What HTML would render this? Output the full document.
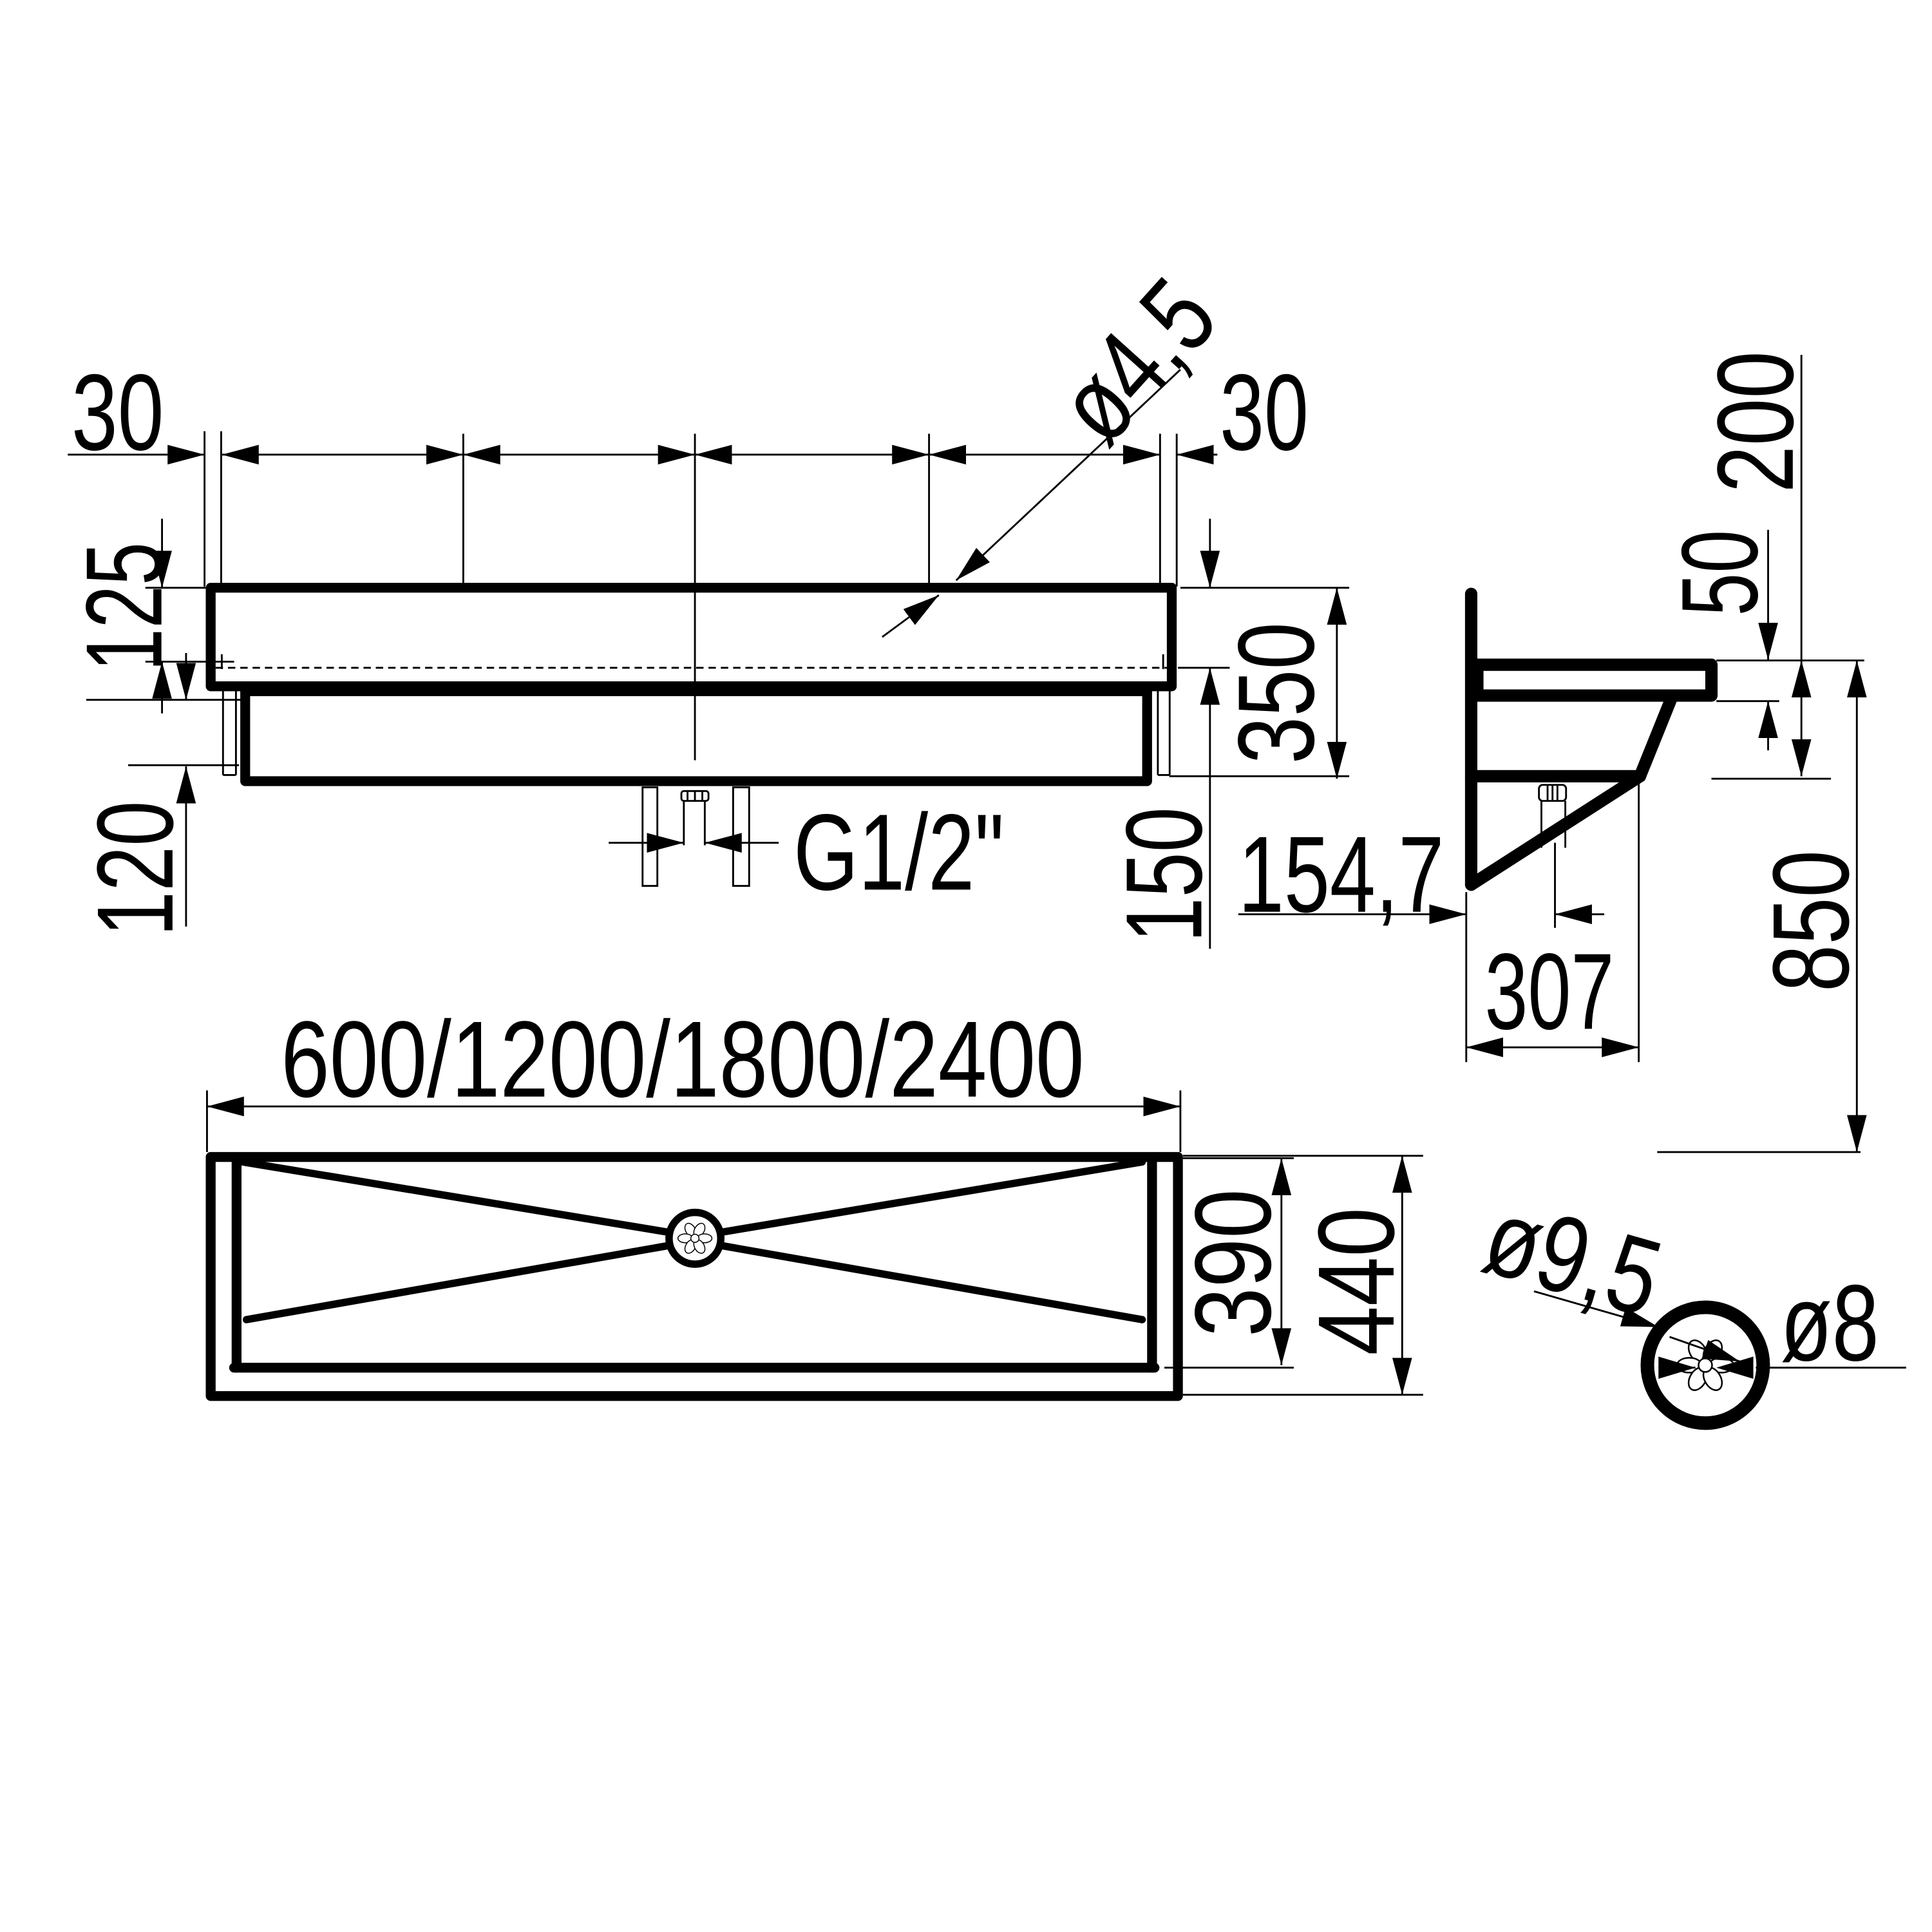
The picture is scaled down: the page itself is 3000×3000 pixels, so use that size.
<!DOCTYPE html>
<html><head><meta charset="utf-8"><style>
html,body{margin:0;padding:0;background:#fff;}
svg{display:block;}
text{font-family:"Liberation Sans",sans-serif;font-size:88px;fill:#000;}
</style></head><body>
<svg width="3000" height="3000" viewBox="0 0 1568 1568" xmlns="http://www.w3.org/2000/svg">
<defs>
<marker id="a" markerUnits="userSpaceOnUse" markerWidth="32" markerHeight="18" refX="30" refY="8" orient="auto-start-reverse">
<path d="M0,0 L30,8 L0,16 z" fill="#000"/>
</marker>
<g id="drain">
<ellipse cx="-6" cy="-11" rx="6.5" ry="10" transform="rotate(-30 -6 -11)" fill="#fff" stroke="#000" stroke-width="1.3"/>
<ellipse cx="6" cy="-11" rx="6.5" ry="10" transform="rotate(30 6 -11)" fill="#fff" stroke="#000" stroke-width="1.3"/>
<ellipse cx="-13" cy="0" rx="10" ry="6" fill="#fff" stroke="#000" stroke-width="1.3"/>
<ellipse cx="13" cy="0" rx="10" ry="6" fill="#fff" stroke="#000" stroke-width="1.3"/>
<ellipse cx="-6" cy="11" rx="6.5" ry="10" transform="rotate(30 -6 11)" fill="#fff" stroke="#000" stroke-width="1.3"/>
<ellipse cx="6" cy="11" rx="6.5" ry="10" transform="rotate(-30 6 11)" fill="#fff" stroke="#000" stroke-width="1.3"/>
<circle cx="0" cy="0" r="5.5" fill="#fff" stroke="#000" stroke-width="1.3"/>
</g>
</defs>
<rect width="1568" height="1568" fill="#fff"/>

<!-- ================= TOP VIEW ================= -->
<g stroke="#000" stroke-width="1.5" fill="none">
<line x1="55" y1="369" x2="166" y2="369" marker-end="url(#a)"/>
<line x1="180" y1="369" x2="376" y2="369" marker-start="url(#a)" marker-end="url(#a)"/>
<line x1="376" y1="369" x2="564" y2="369" marker-start="url(#a)" marker-end="url(#a)"/>
<line x1="564" y1="369" x2="754" y2="369" marker-start="url(#a)" marker-end="url(#a)"/>
<line x1="754" y1="369" x2="941.5" y2="369" marker-start="url(#a)" marker-end="url(#a)"/>
<line x1="955" y1="369" x2="988" y2="369" marker-start="url(#a)"/>
<line x1="166" y1="350" x2="166" y2="476"/>
<line x1="179.5" y1="350" x2="179.5" y2="476"/>
<line x1="376" y1="352" x2="376" y2="476"/>
<line x1="564" y1="352" x2="564" y2="617"/>
<line x1="754" y1="352" x2="754" y2="476"/>
<line x1="941.5" y1="352" x2="941.5" y2="476"/>
<line x1="955" y1="352" x2="955" y2="476"/>
<line x1="131.5" y1="421" x2="131.5" y2="477" marker-end="url(#a)"/>
<line x1="131.5" y1="537" x2="131.5" y2="579" marker-start="url(#a)"/>
<line x1="151" y1="530" x2="151" y2="568" marker-end="url(#a)"/>
<line x1="151" y1="622" x2="151" y2="752" marker-start="url(#a)"/>
<line x1="118" y1="477" x2="167" y2="477"/>
<line x1="118" y1="537" x2="190" y2="537"/>
<line x1="70" y1="568" x2="198" y2="568"/>
<line x1="104" y1="621" x2="194" y2="621"/>
<line x1="180" y1="531" x2="180" y2="543"/>
<line x1="944" y1="531" x2="944" y2="543"/>
<line x1="982" y1="421" x2="982" y2="477" marker-end="url(#a)"/>
<line x1="982" y1="542" x2="982" y2="770" marker-start="url(#a)"/>
<line x1="1085" y1="477" x2="1085" y2="632" marker-start="url(#a)" marker-end="url(#a)"/>
<line x1="958" y1="477" x2="1095" y2="477"/>
<line x1="956" y1="542" x2="998" y2="542"/>
<line x1="949" y1="630" x2="1095" y2="630"/>
<line x1="181" y1="553" x2="181" y2="629"/>
<line x1="191.5" y1="553" x2="191.5" y2="629"/>
<line x1="181" y1="629" x2="191.5" y2="629"/>
<line x1="939.7" y1="553" x2="939.7" y2="629"/>
<line x1="949.3" y1="553" x2="949.3" y2="629"/>
<line x1="939.7" y1="629" x2="949.3" y2="629"/>
<line x1="175" y1="542" x2="948" y2="542" stroke-dasharray="6,4"/>
<line x1="958" y1="300" x2="776" y2="471" marker-end="url(#a)"/>
<line x1="716" y1="517" x2="762" y2="483" marker-end="url(#a)"/>
<rect x="521.5" y="639" width="12" height="80"/>
<rect x="595" y="639" width="13" height="80"/>
<rect x="553" y="642" width="22" height="8" rx="2"/>
<line x1="558" y1="642" x2="558" y2="650"/><line x1="564" y1="642" x2="564" y2="650"/><line x1="570" y1="642" x2="570" y2="650"/>
<line x1="555" y1="650" x2="555" y2="686"/>
<line x1="572" y1="650" x2="572" y2="686"/>
<line x1="494" y1="684" x2="555" y2="684" marker-end="url(#a)"/>
<line x1="572" y1="684" x2="632" y2="684" marker-start="url(#a)"/>
</g>
<g stroke="#000" stroke-width="8" fill="none" stroke-linejoin="round">
<rect x="171" y="477" width="780" height="80"/>
<rect x="199" y="561" width="732" height="73"/>
</g>

<!-- ================= SIDE VIEW ================= -->
<g stroke="#000" stroke-width="10" fill="none" stroke-linejoin="round" stroke-linecap="round">
<line x1="1194" y1="482" x2="1194" y2="718"/>
<rect x="1199" y="539.5" width="190" height="25"/>
<line x1="1194" y1="630" x2="1331" y2="630"/>
<line x1="1356" y1="568" x2="1331" y2="630"/>
<line x1="1331" y1="630" x2="1194" y2="718"/>
</g>
<g stroke="#000" stroke-width="1.5" fill="none">
<rect x="1249" y="637" width="22" height="13" rx="3"/>
<line x1="1256" y1="637" x2="1256" y2="650"/><line x1="1260" y1="637" x2="1260" y2="650"/><line x1="1264" y1="637" x2="1264" y2="650"/>
<line x1="1251" y1="650" x2="1251" y2="688"/>
<line x1="1270.4" y1="650" x2="1270.4" y2="688"/>
<line x1="1005" y1="742" x2="1190" y2="742" marker-end="url(#a)"/>
<line x1="1262" y1="742" x2="1302" y2="742" marker-start="url(#a)"/>
<line x1="1262" y1="684" x2="1262" y2="753"/>
<line x1="1190" y1="724" x2="1190" y2="862"/>
<line x1="1330" y1="634" x2="1330" y2="862"/>
<line x1="1190" y1="850" x2="1330" y2="850" marker-start="url(#a)" marker-end="url(#a)"/>
<line x1="1435" y1="430" x2="1435" y2="535.5" marker-end="url(#a)"/>
<line x1="1435" y1="569" x2="1435" y2="609" marker-start="url(#a)"/>
<line x1="1462" y1="288" x2="1462" y2="536"/>
<line x1="1462" y1="536" x2="1462" y2="630" marker-start="url(#a)" marker-end="url(#a)"/>
<line x1="1507" y1="536" x2="1507" y2="935" marker-start="url(#a)" marker-end="url(#a)"/>
<line x1="1393" y1="536" x2="1513" y2="536"/>
<line x1="1393" y1="569" x2="1444" y2="569"/>
<line x1="1389" y1="632" x2="1486" y2="632"/>
<line x1="1345" y1="935" x2="1510" y2="935"/>
</g>

<!-- ================= FRONT / PLAN VIEW ================= -->
<g stroke="#000" stroke-width="1.5" fill="none">
<line x1="168" y1="898" x2="958" y2="898" marker-start="url(#a)" marker-end="url(#a)"/>
<line x1="168" y1="885" x2="168" y2="935"/>
<line x1="958" y1="885" x2="958" y2="935"/>
<line x1="1040" y1="940" x2="1040" y2="1108" marker-start="url(#a)" marker-end="url(#a)"/>
<line x1="960" y1="940" x2="1050" y2="940"/>
<line x1="945" y1="1110" x2="1050" y2="1110"/>
<line x1="1138" y1="938" x2="1138" y2="1132" marker-start="url(#a)" marker-end="url(#a)"/>
<line x1="960" y1="938" x2="1155" y2="938"/>
<line x1="960" y1="1132" x2="1155" y2="1132"/>
</g>
<g stroke="#000" stroke-width="8" fill="none" stroke-linejoin="round" stroke-linecap="round">
<rect x="171" y="939" width="785" height="194"/>
<line x1="192" y1="939" x2="192" y2="1110"/>
<line x1="935" y1="939" x2="935" y2="1110"/>
<line x1="190" y1="1110" x2="937" y2="1110"/>
<line x1="197" y1="943" x2="542" y2="1000" stroke-width="6"/>
<line x1="586" y1="1000" x2="927" y2="943" stroke-width="6"/>
<line x1="200" y1="1071" x2="542" y2="1011" stroke-width="6"/>
<line x1="586" y1="1011" x2="927" y2="1071" stroke-width="6"/>
</g>
<circle cx="564" cy="1005" r="21" fill="#fff" stroke="#000" stroke-width="6"/>
<g transform="translate(564 1005) scale(0.6)"><use href="#drain"/></g>

<circle cx="1384" cy="1108" r="47" fill="#fff" stroke="#000" stroke-width="11"/>
<g transform="translate(1384 1108)"><use href="#drain"/></g>
<g stroke="#000" stroke-width="1.5" fill="none">
<line x1="1245" y1="1048" x2="1346" y2="1077" marker-end="url(#a)"/>
<line x1="1355" y1="1085" x2="1412" y2="1105" marker-end="url(#a)"/>
<line x1="1346" y1="1110" x2="1376" y2="1110"/>
<line x1="1425" y1="1110" x2="1547" y2="1110"/>
</g>
<path d="M1346,1101 L1376,1110 L1346,1119 z" fill="#000"/>
<path d="M1423,1101 L1393,1110 L1423,1119 z" fill="#000"/>

<!-- ================= TEXT ================= -->
<text x="58" y="365" textLength="75" lengthAdjust="spacingAndGlyphs">30</text>
<text x="990" y="365" textLength="72" lengthAdjust="spacingAndGlyphs">30</text>
<text x="644" y="722" textLength="171" lengthAdjust="spacingAndGlyphs">G1/2"</text>
<text x="1005" y="740" textLength="167" lengthAdjust="spacingAndGlyphs">154,7</text>
<text x="1205" y="835" textLength="105" lengthAdjust="spacingAndGlyphs">307</text>
<text x="228" y="890" textLength="652" lengthAdjust="spacingAndGlyphs">600/1200/1800/2400</text>
<text x="1445" y="1104" textLength="80" lengthAdjust="spacingAndGlyphs">ø8</text>
<text transform="translate(898 365) rotate(-48)" textLength="140" lengthAdjust="spacingAndGlyphs">ø4,5</text>
<text transform="translate(1200 1030) rotate(16)" textLength="142" lengthAdjust="spacingAndGlyphs">ø9,5</text>

<text transform="translate(131 545) rotate(-90)" textLength="105" lengthAdjust="spacingAndGlyphs">125</text>
<text transform="translate(140 760) rotate(-90)" textLength="110" lengthAdjust="spacingAndGlyphs">120</text>
<text transform="translate(1066 620) rotate(-90)" textLength="115" lengthAdjust="spacingAndGlyphs">350</text>
<text transform="translate(975 765) rotate(-90)" textLength="110" lengthAdjust="spacingAndGlyphs">150</text>
<text transform="translate(1031 1085) rotate(-90)" textLength="120" lengthAdjust="spacingAndGlyphs">390</text>
<text transform="translate(1131 1100) rotate(-90)" textLength="120" lengthAdjust="spacingAndGlyphs">440</text>
<text transform="translate(1426 500) rotate(-90)" textLength="70" lengthAdjust="spacingAndGlyphs">50</text>
<text transform="translate(1455 400) rotate(-90)" textLength="115" lengthAdjust="spacingAndGlyphs">200</text>
<text transform="translate(1500 805) rotate(-90)" textLength="115" lengthAdjust="spacingAndGlyphs">850</text>
</svg>
</body></html>
